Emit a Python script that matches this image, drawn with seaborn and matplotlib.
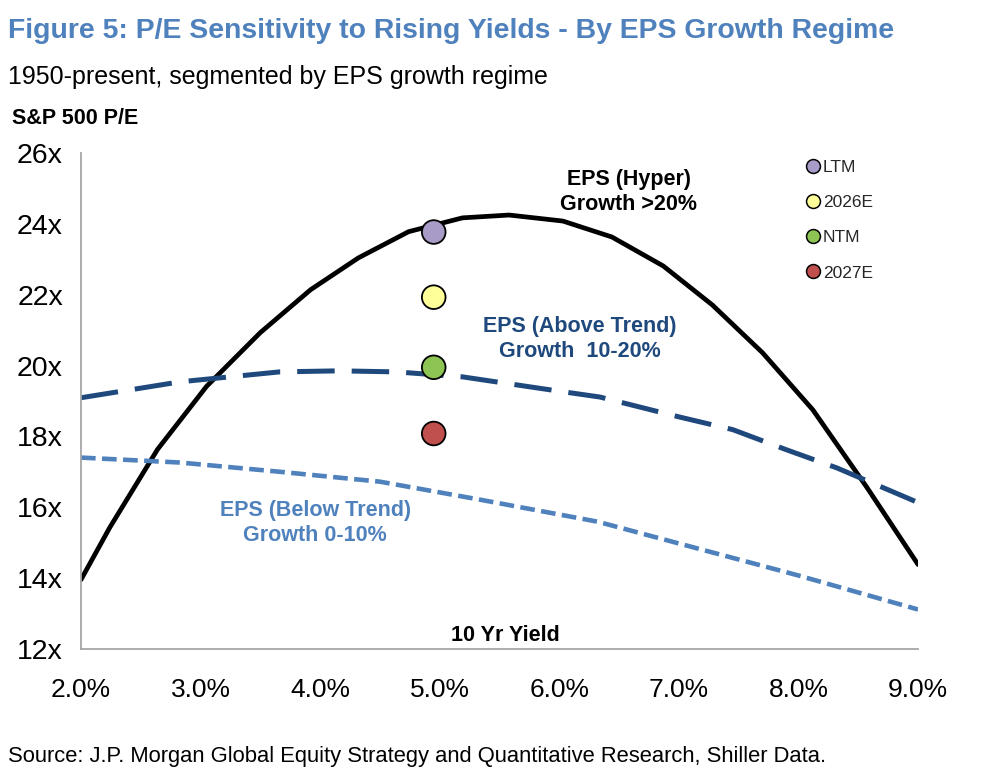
import matplotlib
matplotlib.use("Agg")
import matplotlib.pyplot as plt
import seaborn as sns
import pandas as pd
import numpy as np
from matplotlib.lines import Line2D

# ---- data ----
hyper_x = [2.0, 2.24, 2.64, 3.05, 3.50, 3.92, 4.32, 4.74, 5.19, 5.58, 6.03, 6.44, 6.87, 7.28, 7.70, 8.12, 8.57, 9.0]
hyper_y = [13.95, 15.42, 17.63, 19.41, 20.93, 22.14, 23.04, 23.78, 24.17, 24.25, 24.08, 23.63, 22.81, 21.71, 20.36, 18.75, 16.57, 14.38]

above_x = [2.0, 2.83, 3.66, 4.16, 4.64, 5.19, 6.03, 6.34, 7.0, 7.45, 7.9, 8.32, 9.0]
above_y = [19.09, 19.54, 19.82, 19.85, 19.82, 19.68, 19.26, 19.11, 18.55, 18.19, 17.62, 17.11, 16.13]

below_x = [2.0, 2.83, 3.66, 4.5, 5.34, 6.32, 7.16, 8.0, 9.0]
below_y = [17.40, 17.26, 17.00, 16.72, 16.21, 15.59, 14.83, 14.07, 13.11]

point_labels = ["LTM", "2026E", "NTM", "2027E"]
point_x = [4.95, 4.95, 4.95, 4.95]
point_y = [23.77, 21.93, 19.95, 18.08]
point_colors = ["#A99BC8", "#FFFF99", "#8DC453", "#C0504D"]

yticks = [12, 14, 16, 18, 20, 22, 24, 26]
xticks = [2.0, 3.0, 4.0, 5.0, 6.0, 7.0, 8.0, 9.0]

# ---- style ----
sns.set_theme(style="white")
FONT = ["Liberation Sans", "DejaVu Sans"]
plt.rcParams["font.family"] = FONT

fig = plt.figure(figsize=(9.97, 7.77), dpi=100)
ax = fig.add_axes([0.0812, 0.165, 0.8396, 0.638])

df_h = pd.DataFrame({"x": hyper_x, "y": hyper_y})
df_a = pd.DataFrame({"x": above_x, "y": above_y})
df_b = pd.DataFrame({"x": below_x, "y": below_y})

sns.lineplot(data=df_h, x="x", y="y", ax=ax, color="black", lw=3.4, sort=False)
sns.lineplot(data=df_a, x="x", y="y", ax=ax, color="#1F497D", lw=3.6, sort=False)
ax.lines[-1].set_dashes([7.5, 3.4])
sns.lineplot(data=df_b, x="x", y="y", ax=ax, color="#4F81BD", lw=3.3, sort=False)
ax.lines[-1].set_dashes([3.2, 1.4])

df_p = pd.DataFrame({"x": point_x, "y": point_y, "label": point_labels})
sns.scatterplot(data=df_p, x="x", y="y", hue="label", palette=dict(zip(point_labels, point_colors)),
                s=290, edgecolor="black", linewidth=1.3, ax=ax, legend=False, zorder=5)

ax.set_xlim(2.0, 9.0)
ax.set_ylim(12, 26)
ax.set_xticks(xticks)
ax.set_xticklabels([f"{v:.1f}%" for v in xticks])
ax.set_yticks(yticks)
ax.set_yticklabels([f"{v}x" for v in yticks])
ax.set_xlabel("")
ax.set_ylabel("")
for s in ["top", "right"]:
    ax.spines[s].set_visible(False)
for s in ["left", "bottom"]:
    ax.spines[s].set_color("#A6A6A6")
    ax.spines[s].set_linewidth(1.3)
ax.tick_params(axis="both", which="major", direction="out", length=7, width=1.1,
               color="#A6A6A6", labelcolor="black")
ax.tick_params(axis="x", pad=14, labelsize=19)
ax.tick_params(axis="y", pad=6, labelsize=20.5)

# legend
handles = [Line2D([0], [0], marker="o", linestyle="none", markerfacecolor=c,
                  markeredgecolor="black", markersize=10, markeredgewidth=1.1)
           for c in point_colors]
leg = ax.legend(handles, point_labels, loc="upper left", bbox_to_anchor=(0.856, 1.0),
                frameon=False, fontsize=12.5, labelspacing=1.15, handletextpad=0.05,
                handlelength=1.0, borderaxespad=0.0)

# annotations
ax.text(6.58, 24.9, "EPS (Hyper)\nGrowth >20%", ha="center", va="center", fontsize=15.5,
        fontweight="bold", color="black", linespacing=1.25)
ax.text(6.17, 20.75, "EPS (Above Trend)\nGrowth  10-20%", ha="center", va="center", fontsize=15.5,
        fontweight="bold", color="#1F497D", linespacing=1.25)
ax.text(3.96, 15.55, "EPS (Below Trend)\nGrowth 0-10%", ha="center", va="center", fontsize=15.5,
        fontweight="bold", color="#4F81BD", linespacing=1.25)
ax.text(5.55, 12.38, "10 Yr Yield", ha="center", va="center", fontsize=15.5,
        fontweight="bold", color="black")

fig.text(0.008, 0.960, "Figure 5: P/E Sensitivity to Rising Yields - By EPS Growth Regime",
         ha="left", va="center", fontsize=20.4, fontweight="bold", color="#4F81BD")
fig.text(0.008, 0.901, "1950-present, segmented by EPS growth regime",
         ha="left", va="center", fontsize=18, color="black")
fig.text(0.012, 0.848, "S&P 500 P/E", ha="left", va="center", fontsize=15.5,
         fontweight="bold", color="black")
fig.text(0.008, 0.026, "Source: J.P. Morgan Global Equity Strategy and Quantitative Research, Shiller Data.",
         ha="left", va="center", fontsize=15.8, color="black")

fig.savefig("out.png", dpi=100, facecolor="white")
